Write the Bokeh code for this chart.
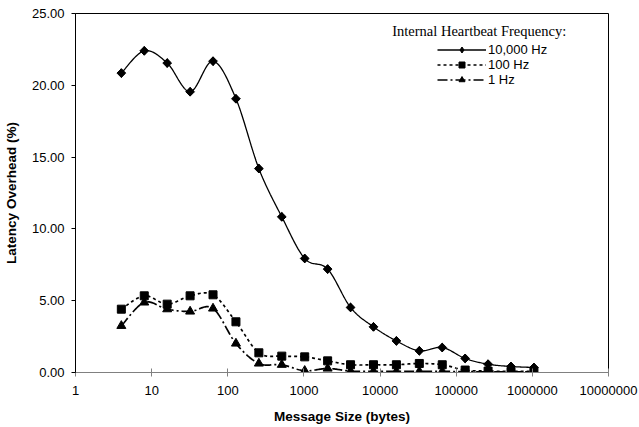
import numpy as np
from bokeh.plotting import figure
from bokeh.models import (FixedTicker, BasicTickFormatter, PrintfTickFormatter,
                          Legend, LegendItem, Label, Range1d)
from bokeh.embed import file_html
from bokeh.resources import INLINE

# ---- data ----
sizes = [4, 8, 16, 32, 64, 128, 256, 512, 1024, 2048, 4096, 8192, 16384,
         32768, 65536, 131072, 262144, 524288, 1048576]
hz_10000 = [20.85, 22.4, 21.55, 19.55, 21.68, 19.06, 14.2, 10.84, 7.94, 7.2,
            4.53, 3.18, 2.2, 1.51, 1.74, 0.98, 0.58, 0.42, 0.35]
hz_100 = [4.41, 5.34, 4.76, 5.34, 5.41, 3.53, 1.37, 1.14, 1.09, 0.81,
          0.54, 0.54, 0.54, 0.63, 0.54, 0.17, 0.10, 0.08, 0.08]
hz_1 = [3.25, 4.88, 4.41, 4.25, 4.46, 2.02, 0.63, 0.54, 0.12, 0.28,
        0.10, 0.08, 0.08, 0.08, 0.08, 0.06, 0.05, 0.05, 0.05]
series_labels = ["10,000 Hz", "100 Hz", "1 Hz"]
x_ticks = [1, 10, 100, 1000, 10000, 100000, 1000000, 10000000]
y_ticks = [0, 5, 10, 15, 20, 25]


def smooth(xs, ys, n=24):
    """Excel-like smoothed line (Catmull-Rom Bezier) in log-x space."""
    P = np.column_stack([np.log10(xs), np.asarray(ys, dtype=float)])
    P = np.vstack([P[0], P, P[-1]])
    segs = []
    t = np.linspace(0, 1, n, endpoint=False)[:, None]
    for i in range(1, len(P) - 2):
        p0, p1, p2, p3 = P[i - 1], P[i], P[i + 1], P[i + 2]
        c1 = p1 + (p2 - p0) / 6.0
        c2 = p2 - (p3 - p1) / 6.0
        b = ((1 - t) ** 3) * p1 + 3 * ((1 - t) ** 2) * t * c1 \
            + 3 * (1 - t) * t ** 2 * c2 + t ** 3 * p2
        segs.append(b)
    segs.append(P[-2][None, :])
    out = np.vstack(segs)
    return 10 ** out[:, 0], out[:, 1]


FONT = "Liberation Sans"

p = figure(width=639, height=427, x_axis_type="log",
           x_range=Range1d(1, 1e7), y_range=Range1d(0, 25),
           output_backend="svg", toolbar_location=None,
           min_border_left=75, min_border_right=31,
           min_border_top=13, min_border_bottom=55)
p.grid.visible = False
p.outline_line_color = "black"
p.outline_line_width = 1

# x axis
p.xaxis.ticker = FixedTicker(ticks=x_ticks, minor_ticks=[])
p.xaxis.formatter = BasicTickFormatter(use_scientific=False)
p.xaxis.axis_line_color = "#808080"
p.xaxis.major_tick_line_color = "#808080"
p.xaxis.minor_tick_line_color = None
p.xaxis.major_tick_in = 4
p.xaxis.major_tick_out = 4
p.xaxis.major_label_standoff = 9
p.xaxis.axis_label = "Message Size (bytes)"
p.xaxis.axis_label_standoff = 11

# y axis
p.yaxis.ticker = FixedTicker(ticks=y_ticks, minor_ticks=[])
p.yaxis.formatter = PrintfTickFormatter(format="%.2f")
p.yaxis.axis_line_color = "black"
p.yaxis.major_tick_line_color = "black"
p.yaxis.minor_tick_line_color = None
p.yaxis.major_tick_in = 0
p.yaxis.major_tick_out = 4
p.yaxis.major_label_standoff = 7
p.yaxis.axis_label = "Latency Overhead (%)"
p.yaxis.axis_label_standoff = 10

for ax in (p.xaxis, p.yaxis):
    ax.major_label_text_font = FONT
    ax.major_label_text_font_size = "13px"
    ax.major_label_text_color = "black"
    ax.axis_label_text_font = FONT
    ax.axis_label_text_font_size = "13.5px"
    ax.axis_label_text_font_style = "bold"
    ax.axis_label_text_color = "black"

# series
sx, sy = smooth(sizes, hz_10000)
l1 = p.line(sx, sy, line_color="black", line_width=1.3)
# diamond (used as legend swatch), covered by the square-rotated marker
s1_key = p.scatter(sizes, hz_10000, marker="diamond", size=8.5, color="black")
s1 = p.scatter(sizes, hz_10000, marker="square", angle=np.pi / 4, size=6.2,
               color="black")

sx, sy = smooth(sizes, hz_100)
l2 = p.line(sx, sy, line_color="black", line_width=1.7, line_dash="3 3")
s2 = p.scatter(sizes, hz_100, marker="square", size=8, color="black")

sx, sy = smooth(sizes, hz_1)
l3 = p.line(sx, sy, line_color="black", line_width=1.7, line_dash="10 3 2 3")
s3 = p.scatter(sizes, hz_1, marker="triangle", size=9, color="black")

legend = Legend(items=[LegendItem(label=series_labels[0], renderers=[l1, s1_key]),
                       LegendItem(label=series_labels[1], renderers=[l2, s2]),
                       LegendItem(label=series_labels[2], renderers=[l3, s3])],
                location=(362, 285), glyph_width=49, glyph_height=15,
                label_height=15, spacing=0, padding=0, margin=0,
                label_standoff=2, border_line_color=None,
                background_fill_alpha=0,
                label_text_font=FONT, label_text_font_size="13px",
                label_text_color="black")
p.add_layout(legend)

title = Label(x=14454, y=23.75, text="Internal Heartbeat Frequency:",
              text_font="Liberation Serif", text_font_size="14.5px",
              text_baseline="middle", text_align="left", text_color="black")
p.add_layout(title)

open("out.html", "w").write(file_html(p, INLINE))
